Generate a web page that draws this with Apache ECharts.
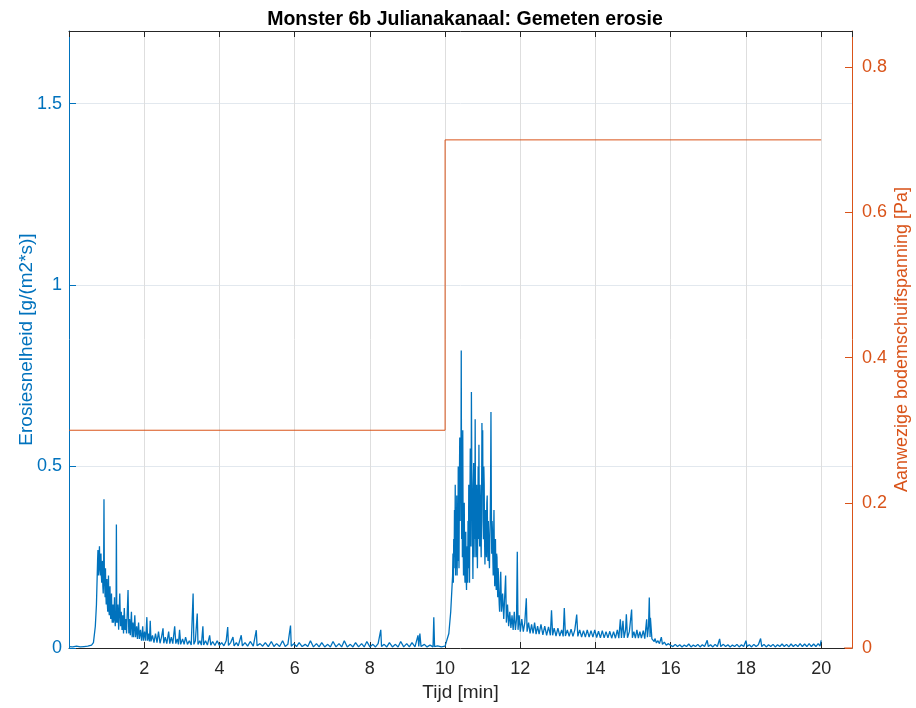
<!DOCTYPE html>
<html>
<head>
<meta charset="utf-8">
<script src="https://cdn.jsdelivr.net/npm/echarts@6/dist/echarts.min.js"></script>
<style>html,body{margin:0;padding:0;background:#fff}#c{width:916px;height:708px}</style>
</head>
<body>
<div id="c"></div>
<script>
// Erosiesnelheid [g/(m2*s)] vs tijd [min]
const erosieFase1 = [
[0,0.004],[0.1,0.003],[0.2,0.005],[0.3,0.003],[0.4,0.004],[0.5,0.005],[0.6,0.008],[0.65,0.015],[0.7,0.06],[0.73,0.12],
[0.75,0.2],[0.76,0.24],[0.77,0.27],[0.78,0.2],[0.79,0.22],[0.80,0.25],[0.81,0.28],[0.82,0.22],[0.83,0.2],[0.84,0.24],[0.85,0.26],[0.86,0.2],
[0.87,0.18],[0.88,0.22],[0.89,0.24],[0.90,0.17],[0.91,0.15],[0.92,0.2],[0.93,0.41],[0.94,0.2],[0.95,0.17],[0.96,0.14],[0.97,0.22],[0.98,0.15],
[0.99,0.12],[1.00,0.16],[1.01,0.19],[1.02,0.12],[1.03,0.1],[1.04,0.14],[1.05,0.2],[1.06,0.11],[1.07,0.09],[1.08,0.13],[1.09,0.17],[1.10,0.1],
[1.11,0.08],[1.12,0.11],[1.13,0.15],[1.14,0.09],[1.15,0.07],[1.16,0.1],[1.17,0.12],[1.18,0.07],[1.19,0.08],[1.20,0.1],[1.21,0.14],[1.22,0.08],
[1.23,0.06],[1.24,0.09],[1.25,0.07],[1.26,0.34],[1.27,0.09],
[1.28,0.07],[1.30,0.12],[1.32,0.05],[1.35,0.15],[1.37,0.06],[1.39,0.1],[1.41,0.05],[1.43,0.09],[1.45,0.04],[1.47,0.11],[1.49,0.05],
[1.51,0.08],[1.53,0.04],[1.57,0.16],[1.59,0.04],[1.61,0.08],[1.63,0.035],[1.66,0.1],[1.68,0.03],[1.70,0.07],[1.72,0.03],[1.75,0.09],[1.77,0.03],
[1.80,0.06],[1.82,0.025],[1.85,0.07],[1.87,0.025],[1.90,0.05],[1.93,0.02],[1.96,0.06],[1.98,0.02],[2.01,0.045],[2.04,0.02],[2.07,0.085],[2.09,0.02],
[2.12,0.04],[2.14,0.018],[2.16,0.075],[2.18,0.018],[2.22,0.035],[2.26,0.015],[2.30,0.04],[2.34,0.015],[2.38,0.045],[2.42,0.013],[2.46,0.03],[2.50,0.054],
[2.52,0.013],[2.56,0.03],[2.60,0.012],[2.65,0.045],[2.68,0.012],[2.72,0.03],[2.76,0.012],[2.81,0.06],[2.84,0.012],[2.88,0.025],[2.91,0.01],[2.94,0.05],
[2.97,0.01],[3.02,0.025],[3.06,0.01],[3.1,0.03],[3.15,0.01],[3.2,0.02],[3.25,0.008],[3.3,0.15],[3.32,0.01],[3.36,0.02],[3.41,0.095],[3.43,0.01],
[3.48,0.02],[3.52,0.008],[3.56,0.06],[3.58,0.008],[3.63,0.02],[3.68,0.008],[3.74,0.035],[3.77,0.008],[3.82,0.018],[3.88,0.007],[3.94,0.02],[4.0,0.007],
[4.06,0.015],[4.12,0.006],[4.18,0.02],[4.22,0.058],[4.24,0.007],[4.3,0.015],[4.36,0.03],[4.39,0.006],[4.45,0.015],[4.5,0.006],[4.58,0.035],[4.61,0.006],
[4.68,0.015],[4.75,0.005],[4.82,0.018],[4.9,0.005],[4.98,0.049],[5.0,0.006],[5.08,0.012],[5.15,0.005],[5.22,0.015],[5.3,0.004],[5.38,0.018],[5.45,0.004],
[5.52,0.012],[5.6,0.004],[5.68,0.02],[5.75,0.004],[5.82,0.01],[5.89,0.062],[5.91,0.005],[5.98,0.012],[6.05,0.004],[6.12,0.015],[6.2,0.004],[6.28,0.01],
[6.35,0.004],[6.42,0.02],[6.5,0.003],[6.58,0.012],[6.65,0.003],[6.72,0.015],[6.8,0.003],[6.88,0.01],[6.95,0.003],[7.02,0.018],[7.1,0.003],[7.18,0.012],
[7.25,0.003],[7.32,0.02],[7.4,0.003],[7.48,0.01],[7.55,0.003],[7.62,0.015],[7.7,0.003],[7.78,0.012],[7.85,0.003],[7.92,0.018],[8.0,0.003],[8.08,0.01],
[8.15,0.003],[8.22,0.012],[8.29,0.05],[8.31,0.004],[8.38,0.01],[8.45,0.003],[8.52,0.015],[8.6,0.003],[8.68,0.01],[8.75,0.003],[8.82,0.018],[8.9,0.003],
[8.98,0.012],[9.05,0.003],[9.12,0.015],[9.2,0.003],[9.28,0.035],[9.3,0.004],[9.33,0.04],[9.36,0.004],[9.45,0.01],[9.52,0.003],[9.6,0.008],[9.68,0.003],
[9.7,0.085],[9.72,0.004],[9.8,0.006],[9.9,0.003],[10.0,0.005]
];
const erosieFase2 = [
[10.05,0.01],[10.1,0.04],[10.15,0.1],
[10.20,0.2],[10.21,0.26],[10.22,0.18],[10.23,0.3],[10.24,0.22],[10.25,0.38],[10.26,0.25],[10.27,0.45],[10.28,0.2],[10.29,0.35],[10.30,0.22],
[10.31,0.42],[10.32,0.2],[10.33,0.3],[10.34,0.24],[10.35,0.5],[10.36,0.3],[10.37,0.22],[10.38,0.45],[10.39,0.58],[10.40,0.35],[10.41,0.55],
[10.42,0.4],[10.43,0.82],[10.44,0.3],[10.45,0.5],[10.46,0.25],[10.47,0.6],[10.48,0.3],[10.49,0.2],[10.50,0.35],[10.51,0.4],[10.52,0.22],
[10.53,0.18],[10.54,0.3],[10.55,0.32],[10.56,0.2],[10.57,0.16],[10.58,0.25],[10.59,0.28],[10.60,0.18],[10.61,0.35],[10.62,0.22],[10.63,0.45],
[10.64,0.3],[10.65,0.18],[10.66,0.4],[10.67,0.55],[10.68,0.35],[10.69,0.28],[10.70,0.705],[10.71,0.5],[10.72,0.45],[10.73,0.3],[10.74,0.19],
[10.75,0.35],[10.76,0.51],[10.77,0.25],[10.78,0.4],[10.79,0.3],[10.80,0.63],[10.81,0.35],[10.82,0.25],[10.83,0.4],[10.84,0.45],[10.85,0.3],
[10.86,0.22],[10.87,0.35],[10.88,0.5],[10.89,0.3],[10.90,0.56],[10.91,0.35],[10.92,0.28],[10.93,0.45],[10.94,0.4],[10.95,0.3],[10.96,0.25],
[10.97,0.4],[10.98,0.62],[10.99,0.45],[11.00,0.6],[11.01,0.35],[11.02,0.3],[11.03,0.5],[11.04,0.45],[11.05,0.3],[11.06,0.23],[11.07,0.35],
[11.08,0.38],[11.09,0.28],[11.10,0.25],[11.11,0.4],[11.12,0.42],[11.13,0.3],[11.14,0.24],[11.15,0.35],[11.16,0.3],[11.17,0.25],[11.18,0.22],
[11.19,0.3],[11.20,0.35],[11.21,0.45],[11.22,0.65],[11.23,0.4],[11.24,0.26],[11.25,0.35],[11.26,0.32],[11.27,0.25],[11.28,0.2],[11.29,0.3],
[11.30,0.38],[11.31,0.25],[11.32,0.17],[11.33,0.28],[11.34,0.3],[11.35,0.2],[11.36,0.16],[11.37,0.26],[11.38,0.25],[11.39,0.18],[11.40,0.14],
[11.41,0.22],[11.42,0.2],[11.43,0.15],[11.44,0.12],[11.45,0.1],
[11.48,0.21],[11.50,0.1],[11.53,0.15],[11.56,0.08],[11.58,0.13],[11.61,0.2],
[11.63,0.07],[11.66,0.12],[11.69,0.06],[11.72,0.1],[11.75,0.055],[11.78,0.09],[11.81,0.05],[11.84,0.1],[11.87,0.05],[11.90,0.08],[11.92,0.265],[11.94,0.05],
[11.97,0.09],[12.0,0.045],[12.04,0.08],[12.08,0.045],[12.12,0.07],[12.16,0.137],[12.18,0.045],[12.22,0.07],[12.26,0.04],[12.3,0.065],[12.34,0.04],[12.38,0.07],
[12.42,0.038],[12.46,0.06],[12.5,0.038],[12.55,0.065],[12.6,0.036],[12.65,0.06],[12.7,0.035],[12.75,0.058],[12.8,0.035],[12.83,0.104],[12.86,0.035],[12.9,0.055],
[12.95,0.033],[13.0,0.055],[13.05,0.033],[13.1,0.05],[13.14,0.032],[13.17,0.11],[13.2,0.033],[13.25,0.05],[13.3,0.032],[13.35,0.052],[13.4,0.032],[13.45,0.05],
[13.5,0.092],[13.53,0.032],[13.58,0.05],[13.63,0.03],[13.68,0.048],[13.73,0.03],[13.78,0.05],[13.83,0.03],[13.88,0.048],[13.93,0.03],[13.98,0.05],[14.03,0.029],
[14.08,0.046],[14.13,0.028],[14.18,0.048],[14.23,0.028],[14.28,0.045],[14.33,0.028],[14.38,0.046],[14.43,0.027],[14.48,0.045],[14.53,0.027],[14.58,0.05],[14.62,0.027],
[14.66,0.079],[14.69,0.028],[14.73,0.075],[14.76,0.028],[14.8,0.05],[14.82,0.093],[14.85,0.028],[14.9,0.045],[14.96,0.106],[14.98,0.028],[15.02,0.045],[15.06,0.027],
[15.1,0.05],[15.14,0.027],[15.18,0.045],[15.22,0.027],[15.27,0.048],[15.31,0.026],[15.36,0.079],[15.38,0.03],[15.41,0.06],[15.43,0.139],[15.45,0.03],[15.46,0.083],
[15.5,0.025],[15.53,0.03],[15.56,0.018],[15.58,0.026],[15.62,0.014],[15.66,0.02],[15.7,0.012],[15.75,0.03],[15.78,0.01],[15.83,0.016],[15.88,0.008],[15.94,0.012]
];
const erosieFase3 = [
[16.0,0.007],[16.06,0.004],[16.12,0.01],[16.18,0.004],[16.24,0.009],[16.3,0.003],[16.36,0.008],[16.42,0.004],[16.48,0.011],[16.54,0.003],[16.6,0.008],[16.66,0.004],
[16.72,0.01],[16.78,0.003],[16.84,0.009],[16.9,0.004],[16.97,0.021],[17.0,0.004],[17.06,0.009],[17.12,0.003],[17.18,0.01],[17.24,0.004],[17.3,0.025],[17.33,0.004],
[17.4,0.01],[17.46,0.004],[17.52,0.009],[17.58,0.003],[17.64,0.008],[17.7,0.004],[17.76,0.01],[17.82,0.003],[17.88,0.009],[17.94,0.004],[18.0,0.02],[18.03,0.004],
[18.09,0.009],[18.15,0.003],[18.21,0.01],[18.27,0.004],[18.33,0.009],[18.39,0.026],[18.42,0.004],[18.48,0.01],[18.54,0.003],[18.6,0.009],[18.66,0.004],[18.72,0.01],
[18.78,0.003],[18.84,0.009],[18.9,0.004],[18.96,0.011],[19.02,0.004],[19.08,0.01],[19.14,0.003],[19.2,0.011],[19.26,0.004],[19.32,0.01],[19.38,0.004],[19.44,0.012],
[19.5,0.004],[19.56,0.011],[19.62,0.004],[19.68,0.012],[19.74,0.004],[19.8,0.011],[19.86,0.004],[19.92,0.012],[19.97,0.005],[20.0,0.021]
];
// Aanwezige bodemschuifspanning [Pa]
const schuifTijd = [0, 10, 10, 20];
const schuifWaarde = [0.3, 0.3, 0.7, 0.7];
const schuifEindTijd = [20.61, 20.82];
const schuifEindWaarde = [0, 0];
// axes
const xMin = 0, xMax = 20.82, xStap = 2;
const yLinksMax = 1.7, yLinksStap = 0.5;
const yRechtsMax = 0.85, yRechtsStap = 0.2;

const BLAUW = '#0072BD', ORANJE = '#D95319', DONKER = '#262626';
const FONT = '"Liberation Sans", Arial, Helvetica, sans-serif';

const erosie = erosieFase1.concat(erosieFase2, erosieFase3);
const schuif = schuifTijd.map((t, i) => [t, schuifWaarde[i]]);
const schuifEind = schuifEindTijd.map((t, i) => [t, schuifEindWaarde[i]]);

const chart = echarts.init(document.getElementById('c'), null, {renderer: 'canvas'});
chart.setOption({
  animation: false,
  backgroundColor: '#fff',
  title: {
    text: 'Monster 6b Julianakanaal: Gemeten erosie',
    left: 460, top: 5, textAlign: 'center',
    textStyle: {fontFamily: FONT, fontSize: 19.5, fontWeight: 'bold', color: '#000'}
  },
  grid: {left: 69, right: 64, top: 31, bottom: 60, containLabel: false, outerBoundsMode: 'none'},
  xAxis: [{
    type: 'value', min: xMin, max: xMax, interval: xStap, position: 'bottom',
    axisLine: {show: true, onZero: false, lineStyle: {color: DONKER, width: 1}},
    axisTick: {show: true, inside: true, length: 6, lineStyle: {color: DONKER}},
    axisLabel: {show: true, color: DONKER, fontFamily: FONT, fontSize: 18, margin: 12, showMinLabel: false, showMaxLabel: false},
    splitLine: {show: true, lineStyle: {color: '#dedede', width: 1}},
    name: 'Tijd [min]', nameLocation: 'middle', nameGap: 35, nameMoveOverlap: false,
    nameTextStyle: {color: DONKER, fontFamily: FONT, fontSize: 19}
  }, {
    type: 'value', min: xMin, max: xMax, interval: xStap, position: 'top',
    axisLine: {show: true, onZero: false, lineStyle: {color: DONKER, width: 1}},
    axisTick: {show: true, inside: true, length: 6, lineStyle: {color: DONKER}},
    axisLabel: {show: false}, splitLine: {show: false}
  }],
  yAxis: [{
    type: 'value', min: 0, max: yLinksMax, interval: yLinksStap, position: 'left',
    axisLine: {show: true, onZero: false, lineStyle: {color: BLAUW, width: 1}},
    axisTick: {show: true, inside: true, length: 7, lineStyle: {color: BLAUW}},
    axisLabel: {color: BLAUW, fontFamily: FONT, fontSize: 18, margin: 7, showMaxLabel: false},
    splitLine: {show: true, lineStyle: {color: '#e2e8ee', width: 1}},
    name: 'Erosiesnelheid [g/(m2*s)]', nameLocation: 'middle', nameGap: 33, nameMoveOverlap: false,
    nameTextStyle: {color: BLAUW, fontFamily: FONT, fontSize: 19}
  }, {
    type: 'value', min: 0, max: yRechtsMax, interval: yRechtsStap, position: 'right',
    axisLine: {show: true, onZero: false, lineStyle: {color: ORANJE, width: 1}},
    axisTick: {show: true, inside: true, length: 7, lineStyle: {color: ORANJE}},
    axisLabel: {color: ORANJE, fontFamily: FONT, fontSize: 18, margin: 10, showMaxLabel: false},
    splitLine: {show: false},
    name: 'Aanwezige bodemschuifspanning [Pa]', nameLocation: 'middle', nameGap: 41, nameMoveOverlap: false,
    nameTextStyle: {color: ORANJE, fontFamily: FONT, fontSize: 18}
  }],
  series: [{
    type: 'line', xAxisIndex: 0, yAxisIndex: 0, data: erosie,
    showSymbol: false, symbol: 'none', sampling: 'none', silent: true,
    lineStyle: {color: BLAUW, width: 1.3}, z: 3
  }, {
    type: 'line', xAxisIndex: 0, yAxisIndex: 1, data: schuif,
    showSymbol: false, symbol: 'none', silent: true,
    lineStyle: {color: ORANJE, width: 1}, z: 2
  }, {
    type: 'line', xAxisIndex: 0, yAxisIndex: 1, data: schuifEind,
    showSymbol: false, symbol: 'none', silent: true,
    lineStyle: {color: ORANJE, width: 1}, z: 2
  }]
});
</script>
</body>
</html>
